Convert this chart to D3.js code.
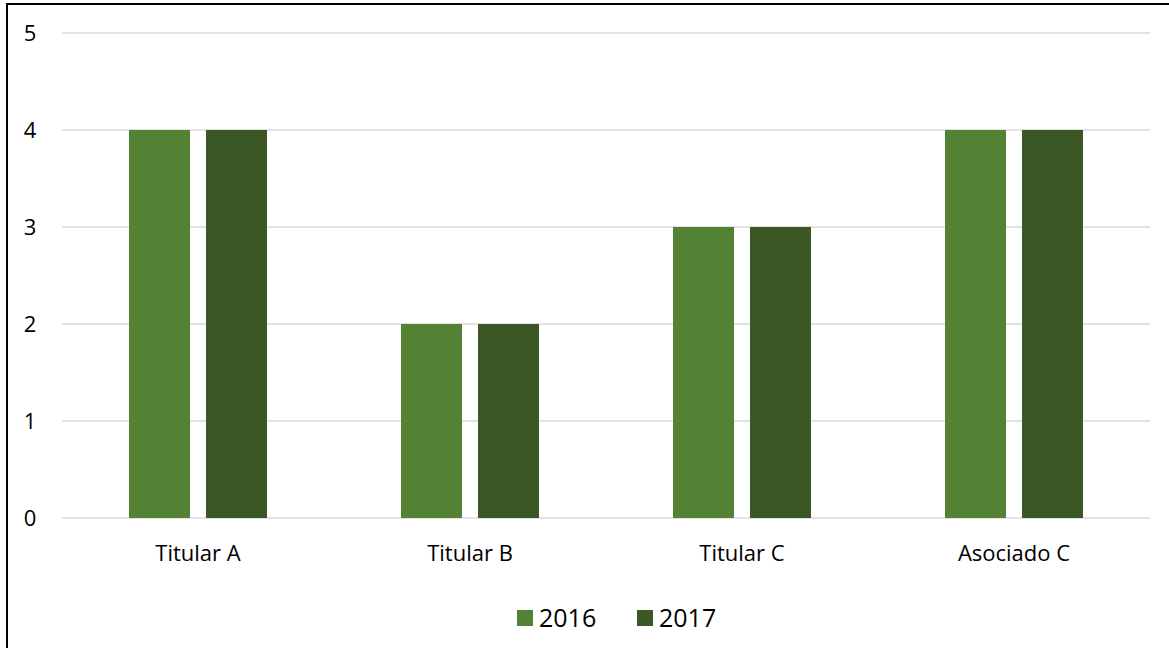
<!DOCTYPE html>
<html>
<head>
<meta charset="utf-8">
<script src="https://cdn.jsdelivr.net/npm/d3@7"></script>
<style>
  body { margin: 0; background: #fff; }
  text { font-family: "Open Sans", "Noto Sans", sans-serif; fill: #000; }
</style>
</head>
<body>
<div id="chart"></div>
<script>
// data
var categories = ["Titular A", "Titular B", "Titular C", "Asociado C"];
var seriesNames = ["2016", "2017"];
var values2016 = [4, 2, 3, 4];
var values2017 = [4, 2, 3, 4];
var yTicks = [0, 1, 2, 3, 4, 5];

var colors = { "2016": "#548235", "2017": "#3a5724" };

var width = 1169, height = 648;
var m = { left: 62, right: 19, top: 33, bottom: 130 };

var svg = d3.select("#chart").append("svg")
  .attr("width", width)
  .attr("height", height);

// outer border (only top and left visible in the picture)
svg.append("rect")
  .attr("x", 7).attr("y", 4)
  .attr("width", width + 20).attr("height", height + 20)
  .attr("fill", "#fff")
  .attr("stroke", "#000")
  .attr("stroke-width", 2);

var x = d3.scaleBand()
  .domain(categories)
  .range([m.left, width - m.right]);

var inner = d3.scaleBand()
  .domain(seriesNames)
  .range([0, x.bandwidth()])
  .paddingInner(0.208)
  .paddingOuter(0.87);

var y = d3.scaleLinear()
  .domain([0, 5])
  .range([height - m.bottom, m.top]);

// gridlines
svg.append("g")
  .selectAll("line")
  .data(yTicks)
  .enter().append("line")
  .attr("x1", m.left)
  .attr("x2", width - m.right)
  .attr("y1", function (d) { return y(d); })
  .attr("y2", function (d) { return y(d); })
  .attr("stroke", "#d9d9d9")
  .attr("stroke-width", 1.5);

// y labels
svg.append("g")
  .selectAll("text")
  .data(yTicks)
  .enter().append("text")
  .attr("x", 30)
  .attr("y", function (d) { return y(d); })
  .attr("dy", "0.35em")
  .attr("text-anchor", "middle")
  .style("font-size", "22px")
  .text(function (d) { return d; });

// bars
var rows = categories.map(function (c, i) {
  return { cat: c, vals: [
    { key: "2016", value: values2016[i] },
    { key: "2017", value: values2017[i] }
  ] };
});

var groups = svg.append("g")
  .selectAll("g")
  .data(rows)
  .enter().append("g")
  .attr("transform", function (d) { return "translate(" + x(d.cat) + ",0)"; });

groups.selectAll("rect")
  .data(function (d) { return d.vals; })
  .enter().append("rect")
  .attr("x", function (d) { return inner(d.key); })
  .attr("width", inner.bandwidth())
  .attr("y", function (d) { return y(d.value); })
  .attr("height", function (d) { return y(0) - y(d.value); })
  .attr("fill", function (d) { return colors[d.key]; });

// category labels
svg.append("g")
  .selectAll("text")
  .data(categories)
  .enter().append("text")
  .attr("x", function (d) { return x(d) + x.bandwidth() / 2; })
  .attr("y", 553)
  .attr("dy", "0.35em")
  .attr("text-anchor", "middle")
  .style("font-size", "22px")
  .text(function (d) { return d; });

// legend
var legendX = [517, 637];
var legend = svg.append("g")
  .selectAll("g")
  .data(seriesNames)
  .enter().append("g")
  .attr("transform", function (d, i) { return "translate(" + legendX[i] + ",610)"; });

legend.append("rect")
  .attr("width", 16).attr("height", 16)
  .attr("fill", function (d) { return colors[d]; });

legend.append("text")
  .attr("x", 22)
  .attr("y", 8)
  .attr("dy", "0.35em")
  .style("font-size", "25px")
  .text(function (d) { return d; });
</script>
</body>
</html>
